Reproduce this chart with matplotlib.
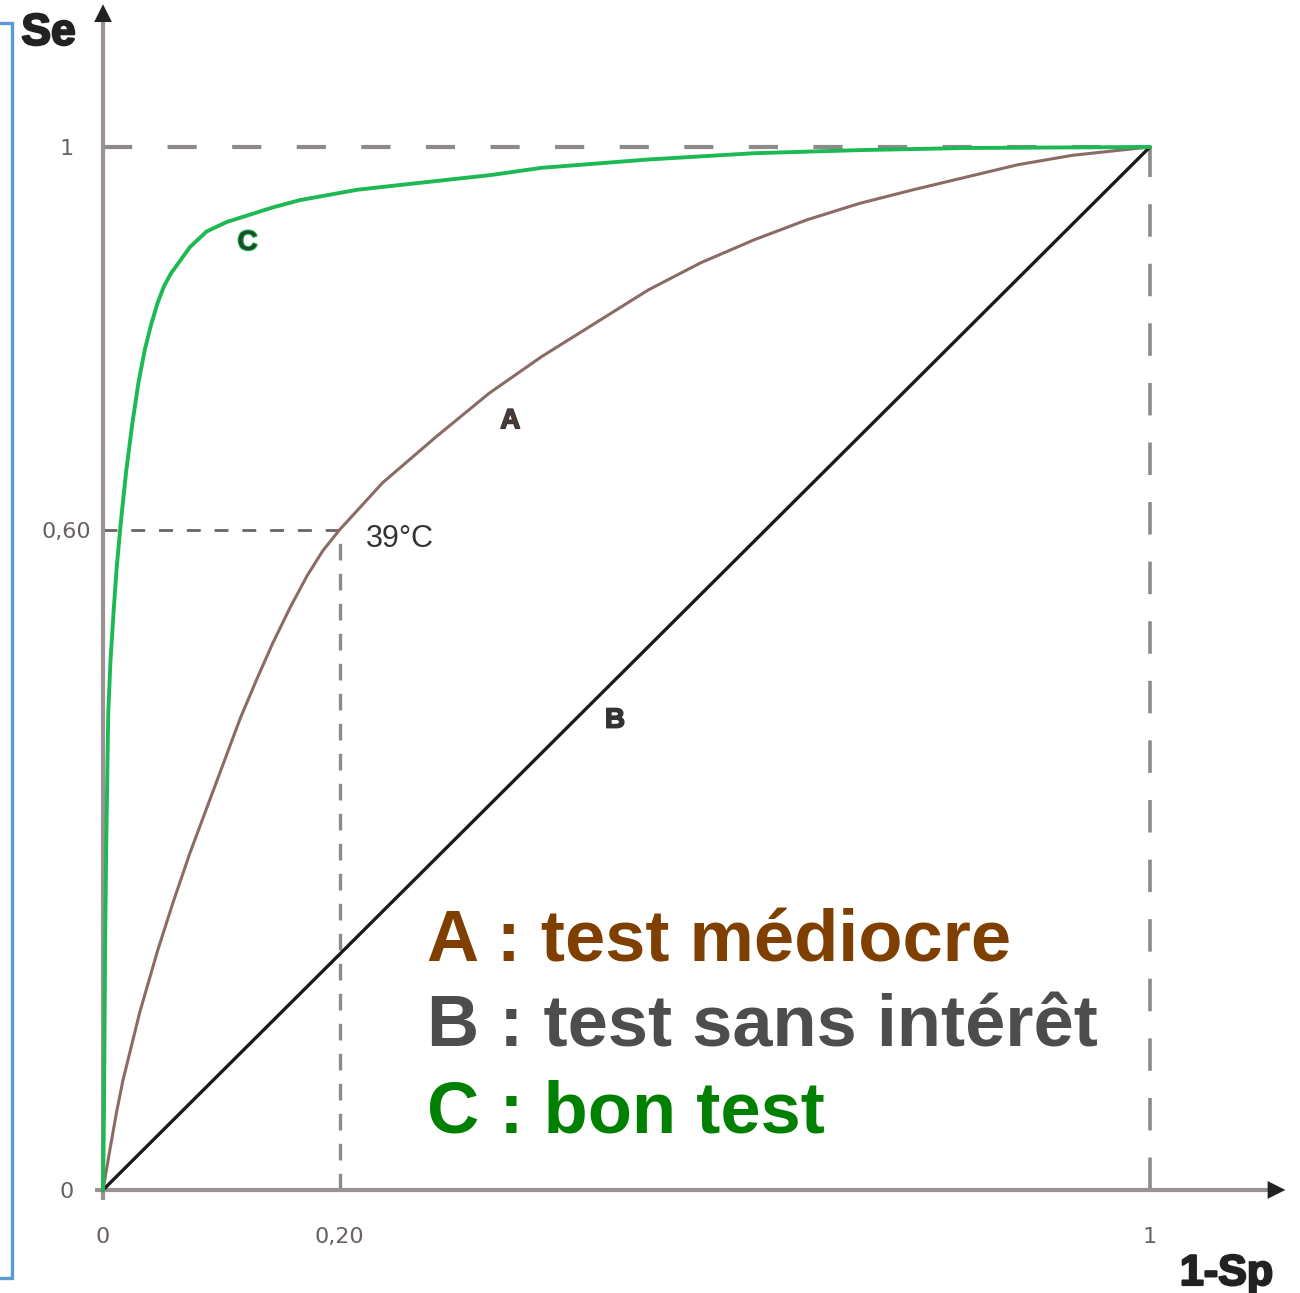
import numpy as np
import matplotlib.pyplot as plt
import matplotlib.patheffects as pe

# curves (x = 1-Sp, y = Se, in the drawing's own 0..1 box)
curve_a_x = [0, 0.007, 0.013, 0.019, 0.035, 0.052, 0.067, 0.083, 0.099, 0.115, 0.131,
             0.147, 0.162, 0.179, 0.195, 0.210, 0.226, 0.267, 0.318, 0.369, 0.419,
             0.470, 0.521, 0.571, 0.622, 0.672, 0.723, 0.774, 0.824, 0.874, 0.926, 1.0]
curve_a_y = [0, 0.041, 0.075, 0.105, 0.170, 0.229, 0.276, 0.323, 0.366, 0.409, 0.452,
             0.490, 0.524, 0.559, 0.589, 0.613, 0.633, 0.678, 0.722, 0.764, 0.799,
             0.831, 0.863, 0.889, 0.911, 0.930, 0.946, 0.959, 0.971, 0.983, 0.992, 1.0]

curve_c_x = [0, 0.001, 0.002, 0.003, 0.004, 0.005, 0.007, 0.010, 0.013, 0.017, 0.022,
             0.028, 0.034, 0.040, 0.046, 0.052, 0.058, 0.065, 0.073, 0.083, 0.099,
             0.118, 0.140, 0.162, 0.188, 0.243, 0.306, 0.370, 0.419, 0.521, 0.622,
             0.723, 0.824, 1.0]
curve_c_y = [0, 0.086, 0.234, 0.326, 0.393, 0.457, 0.505, 0.553, 0.596, 0.640, 0.688,
             0.735, 0.775, 0.806, 0.830, 0.850, 0.866, 0.879, 0.890, 0.904, 0.919,
             0.928, 0.935, 0.942, 0.949, 0.959, 0.966, 0.973, 0.980, 0.988, 0.994,
             0.997, 0.999, 1.0]

curve_b_x = [0, 1]
curve_b_y = [0, 1]

# the 39°C threshold point on curve A
seuil_x = 0.226
seuil_y = 0.633
seuil_label = "39°C"

x_tick_pos = [0, seuil_x, 1]
x_tick_labels = ["0", "0,20", "1"]
y_tick_pos = [0, seuil_y, 1]
y_tick_labels = ["0", "0,60", "1"]

legend_lines = ["A : test médiocre", "B : test sans intérêt", "C : bon test"]
legend_colors = ["#7f3f00", "#4d4d4d", "#008000"]

fig = plt.figure(figsize=(13, 12.93), dpi=100)
ax = fig.add_axes([0, 0, 1, 1])
ax.set_xlim(-0.0984, 1.1433)
ax.set_ylim(-0.0988, 1.1409)
ax.axis("off")

axis_col = "#9a9292"
dash_col = "#8f8a8a"

# reference dashed lines
ax.plot([0, 1], [1, 1], color=dash_col, lw=3, dashes=(7, 8.5), zorder=1)
ax.plot([1, 1], [0, 1], color=dash_col, lw=2.6, dashes=(9, 7.5), zorder=1)
ax.plot([0, seuil_x], [seuil_y, seuil_y], color="#6a6464", lw=2, dashes=(5, 5), zorder=1)
ax.plot([seuil_x, seuil_x], [0, seuil_y], color=dash_col, lw=2.4, dashes=(5, 4), zorder=1)

# axes with arrow heads
ax.plot([0, 0], [-0.01, 1.13], color=axis_col, lw=3, solid_capstyle="butt", zorder=2)
ax.plot([-0.008, 1.12], [0, 0], color=axis_col, lw=3, solid_capstyle="butt", zorder=2)
ax.annotate("", xy=(0, 1.1395), xytext=(0, 1.10),
            arrowprops=dict(arrowstyle="-|>", color="#222222", lw=0, mutation_scale=32))
ax.annotate("", xy=(1.132, 0), xytext=(1.09, 0),
            arrowprops=dict(arrowstyle="-|>", color="#222222", lw=0, mutation_scale=32))

# the three curves
ax.plot(curve_b_x, curve_b_y, color="#1a1a1a", lw=2.4, zorder=3)
ax.plot(curve_a_x, curve_a_y, color="#8b6b66", lw=2.2, zorder=4,
        solid_joinstyle="round", solid_capstyle="round")
ax.plot(curve_c_x, curve_c_y, color="#1db954", lw=2.8, zorder=5,
        solid_joinstyle="round", solid_capstyle="round")

# curve letters
bold_fx = [pe.withStroke(linewidth=1.2, foreground="#333333")]
ax.text(0.389, 0.737, "A", fontsize=20, fontweight="bold", color="#4a3a38",
        family="Liberation Sans", ha="center", va="center", path_effects=bold_fx)
ax.text(0.489, 0.450, "B", fontsize=20, fontweight="bold", color="#333333",
        family="Liberation Sans", ha="center", va="center", path_effects=bold_fx)
ax.text(0.138, 0.908, "C", fontsize=20, fontweight="bold", color="#1f4a2a",
        family="Liberation Sans", ha="center", va="center",
        path_effects=[pe.withStroke(linewidth=1.5, foreground="#1db954")])
ax.text(seuil_x + 0.025, seuil_y - 0.009, seuil_label, fontsize=22, color="#333333",
        family="Liberation Sans", ha="left", va="center")

# tick labels
for pos, lab in zip(x_tick_pos, x_tick_labels):
    ax.text(pos, -0.045, lab, fontsize=16, color="#6a6060", ha="center", va="center")
for pos, lab in zip(y_tick_pos, y_tick_labels):
    ax.text(-0.035, pos - 0.002, lab, fontsize=16, color="#6a6060", ha="center", va="center")

heavy_fx = [pe.withStroke(linewidth=1.6, foreground="#222222")]
ax.text(-0.078, 1.109, "Se", fontsize=32, fontweight="bold", color="#222222",
        family="Liberation Sans", ha="left", va="center", path_effects=heavy_fx)
ax.text(1.1175, -0.0911, "1-Sp", fontsize=31, fontweight="bold", color="#222222",
        family="Liberation Sans", ha="right", va="baseline", path_effects=heavy_fx)

# legend block
for i, (txt, col) in enumerate(zip(legend_lines, legend_colors)):
    ax.text(0.309, 0.219 - i * 0.0818, txt, fontsize=52, fontweight="bold", color=col,
            family="Liberation Sans", ha="left", va="baseline")

# blue bracket on the left
ax.plot([-0.0984, -0.087, -0.087, -0.0984], [1.119, 1.119, -0.0843, -0.0843],
        color="#5b9bd5", lw=2.4, solid_joinstyle="miter", clip_on=False)

fig.savefig("out.png", dpi=100)
